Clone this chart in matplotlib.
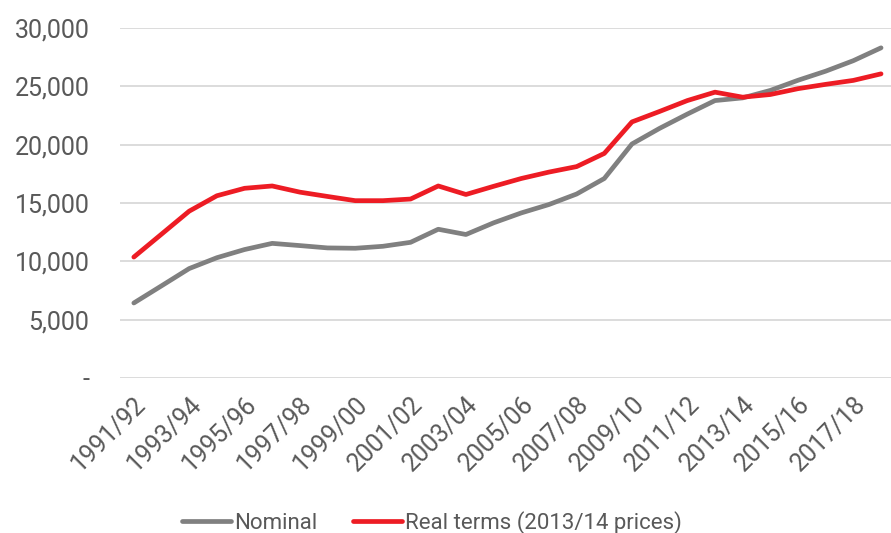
import numpy as np
import matplotlib.pyplot as plt
from matplotlib.ticker import FuncFormatter

# financial years 1991/92 .. 2018/19
years = [f"{y}/{str(y + 1)[-2:]}" for y in range(1991, 2019)]

nominal = [6430, 7900, 9380, 10310, 11010, 11540, 11350, 11150, 11120, 11290,
           11630, 12750, 12300, 13300, 14150, 14870, 15770, 17100, 20060, 21400,
           22620, 23780, 24010, 24650, 25520, 26300, 27200, 28300]
real_terms = [10365, 12330, 14300, 15620, 16260, 16460, 15930, 15560, 15200, 15200,
              15340, 16460, 15730, 16430, 17100, 17650, 18120, 19250, 21950, 22850,
              23780, 24500, 24070, 24300, 24800, 25170, 25510, 26070]

plt.rcParams['font.family'] = ['Roboto', 'DejaVu Sans']
txt_color = '#595959'

fig = plt.figure(figsize=(8.91, 5.33), dpi=100)
ax = fig.add_axes([120 / 891, 155 / 533, 771 / 891, 350 / 533])

x = np.arange(len(years))
ax.plot(x, nominal, color='#808080', lw=3.4, solid_capstyle='round', label='Nominal')
ax.plot(x, real_terms, color='#ED1C24', lw=3.4, solid_capstyle='round',
        label='Real terms (2013/14 prices)')

ax.set_ylim(0, 30000)
ax.set_xlim(-0.5, 27.36)
ax.set_yticks(range(0, 30001, 5000))
ax.yaxis.set_major_formatter(FuncFormatter(lambda v, p: '-' if v == 0 else f"{int(v):,}"))
ax.set_xticks(x[::2])
ax.set_xticklabels(years[::2], rotation=45, ha='right', rotation_mode='anchor')

ax.grid(axis='y', color='#d9d9d9', lw=1.3)
ax.set_axisbelow(True)
for s in ax.spines.values():
    s.set_visible(False)
ax.tick_params(axis='both', length=0, labelsize=18, colors=txt_color)
ax.tick_params(axis='y', pad=22)
ax.tick_params(axis='x', pad=10)

leg = fig.legend(loc='center', bbox_to_anchor=(0.485, 0.02), ncol=2, frameon=False,
                 fontsize=16, handlelength=2.2, handletextpad=0.15, columnspacing=1.6)
for t in leg.get_texts():
    t.set_color(txt_color)

fig.savefig('out.png', dpi=100)
